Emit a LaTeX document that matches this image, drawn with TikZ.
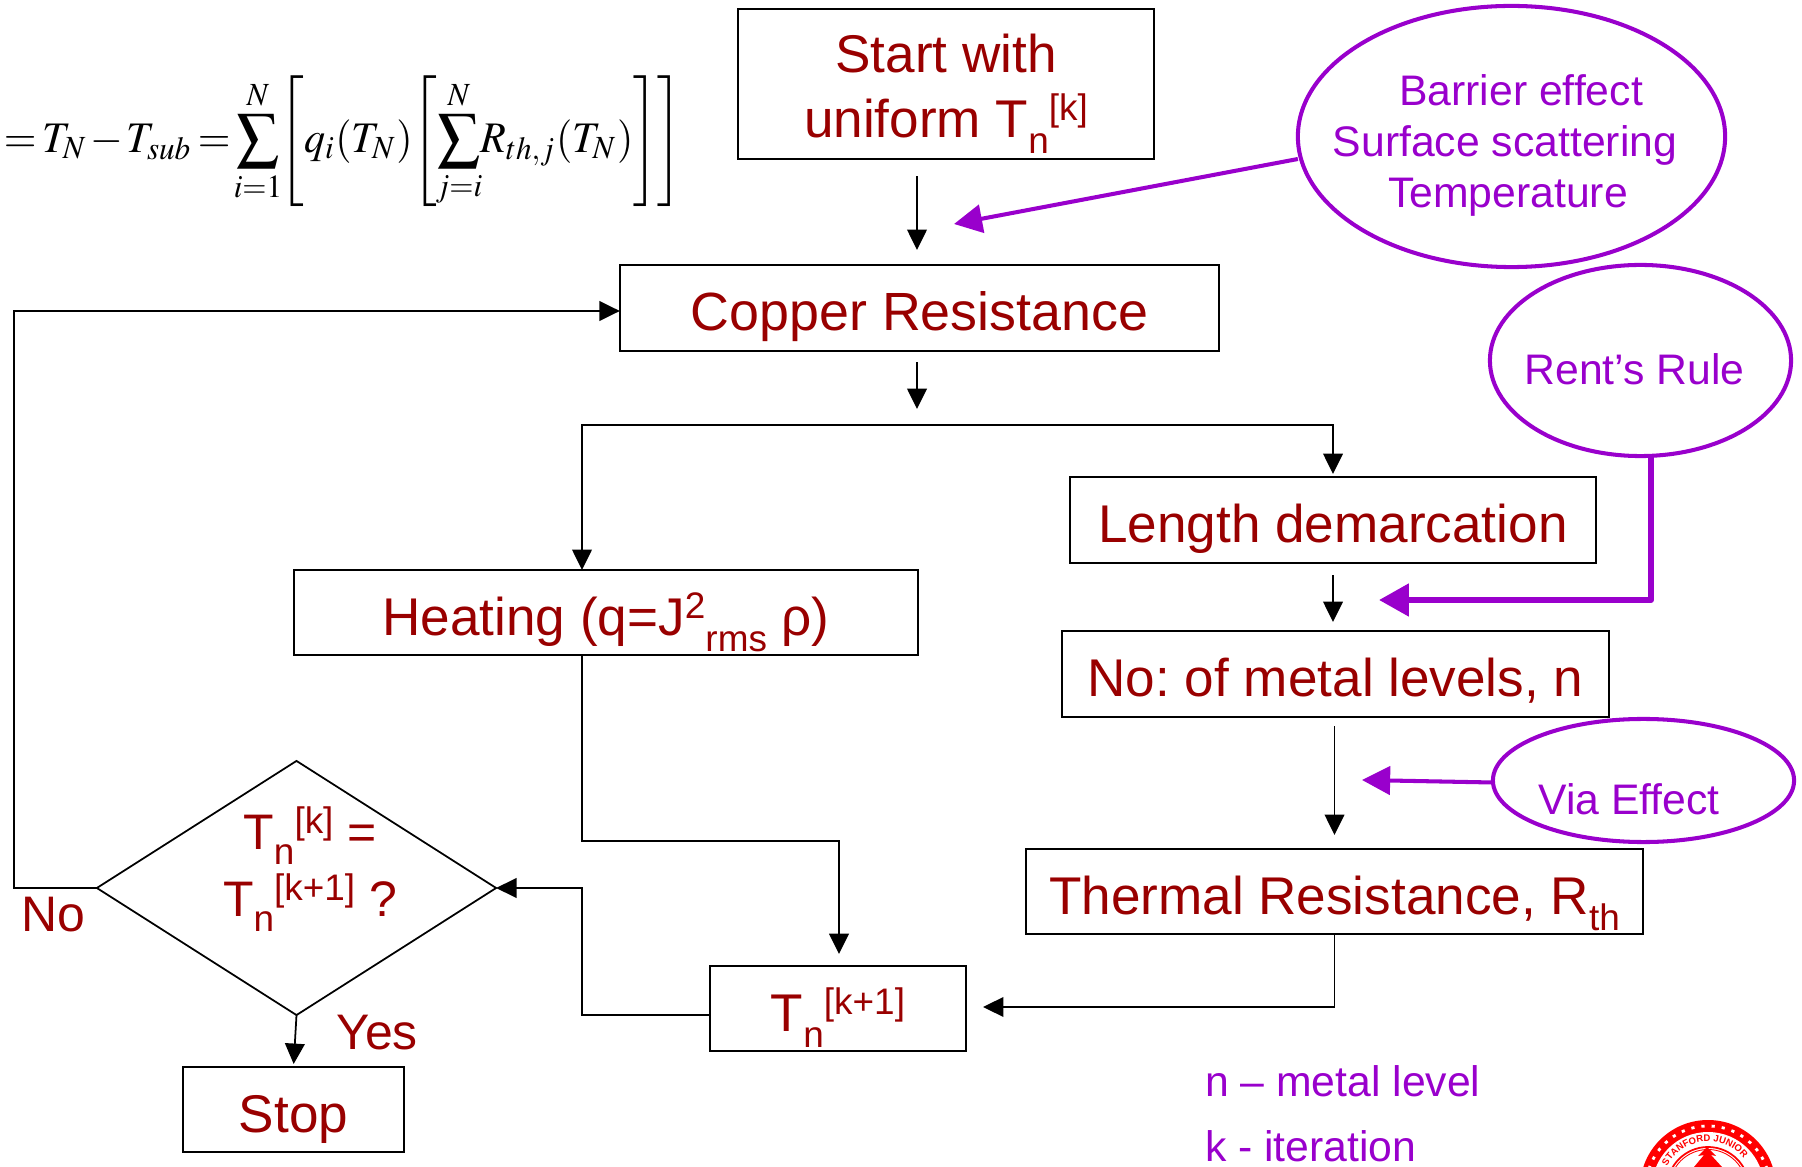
\documentclass[tikz,border=0pt]{standalone}
\usepackage{mathptmx}
\usepackage{mathtools}
\usepackage{graphicx}
\usepackage[no-math]{fontspec}
\setmainfont{Liberation Sans}
\usetikzlibrary{arrows.meta,shapes.geometric,decorations.text}
\definecolor{flowred}{HTML}{990000}
\definecolor{notepurple}{HTML}{9900CC}
\definecolor{sealred}{HTML}{FF0000}
\newcommand{\lowtxt}[1]{\raisebox{-0.3em}{\fontsize{10.5}{12}\selectfont #1}}
\newcommand{\hightxt}[1]{\raisebox{0.32em}{\fontsize{10.5}{12}\selectfont #1}}
\lineskiplimit=-20pt
\frenchspacing
\begin{document}
\begin{tikzpicture}[
  x=0.01cm, y=-0.01cm,
  every node/.style={inner sep=0pt, outer sep=0pt},
  tallbox/.style={draw=black, line width=0.5pt, align=center, font=\fontsize{15.1}{18.3}\selectfont, text=flowred},
  flowbox/.style={draw=black, line width=0.5pt, text height=13pt, text depth=0pt, font=\fontsize{15.1}{16}\selectfont, text=flowred},
  bubble/.style={draw=notepurple, line width=1.15pt, ellipse, inner sep=0pt},
  flowtext/.style={font=\fontsize{14.2}{19}\selectfont, text=flowred, align=center},
  notetext/.style={font=\fontsize{12.15}{15}\selectfont, text height=9pt, text depth=0pt, text=notepurple},
  arr/.style={line width=0.5pt, -{Triangle[length=5.8pt,width=5.6pt]}},
  notearr/.style={draw=notepurple, line width=1.15pt, -{Triangle[length=8pt,width=8pt]}},
  heavyarr/.style={draw=notepurple, line width=1.7pt, line join=round, -{Triangle[length=8.5pt,width=9pt]}}
]
\useasboundingbox (0,0) rectangle (1802,1167);

% --- equation ---
\node[anchor=west] (eq) at (4,142) {\fontsize{12.4}{14}\selectfont
  \thinmuskip=0mu \medmuskip=1.5mu \thickmuskip=2.5mu \nulldelimiterspace=0pt
  \scalebox{0.965}[1]{$\displaystyle =T_N-T_{sub}=\sum_{\mathclap{i=1}}^{N}\left[q_i\left(T_N\right)\left[\sum_{\mathclap{j=i}}^{N}R_{th,j}\left(T_N\right)\right]\right]$}};

% --- flow boxes ---
\node[tallbox, minimum width=4.16cm, minimum height=1.5cm] (start) at (946,84)
  {\rule{0pt}{16.5pt}Start with\\uniform T\lowtxt{n}\hightxt{[k]}};
\node[flowbox, font=\fontsize{15.3}{16}\selectfont, minimum width=5.99cm, minimum height=0.86cm] (copper) at (919.5,308) {Copper Resistance};
\node[flowbox, minimum width=5.26cm, minimum height=0.86cm] (length) at (1333,520) {Length demarcation};
\node[flowbox, minimum width=6.24cm, minimum height=0.85cm] (heating) at (606,612.5)
  {Heating (q=J\hightxt{2}\lowtxt{rms} ρ)};
\node[flowbox, minimum width=5.47cm, minimum height=0.86cm] (levels) at (1335.5,674) {No: of metal levels, n};
\node[flowbox, minimum width=6.17cm, minimum height=0.85cm] (thermal) at (1334.5,891.5)
  {Thermal Resistance, R\lowtxt{th}};
\node[flowbox, minimum width=2.56cm, minimum height=0.85cm] (next) at (838,1008.5)
  {T\lowtxt{n}\hightxt{[k+1]}};
\node[flowbox, minimum width=2.21cm, minimum height=0.85cm] (stop) at (293.5,1109.5) {Stop};

% --- decision ---
\node[draw=black, line width=0.5pt, diamond, aspect=1.57, minimum width=3.99cm, minimum height=2.54cm] (check) at (296.5,888) {};
\node[flowtext] (checktext) at (310,869) {T\lowtxt{n}\hightxt{[k]} =\\T\lowtxt{n}\hightxt{[k+1]} ?};
\node[flowtext] (notext) at (53,915) {No};
\node[flowtext] (yestext) at (377,1033) {Yes};

% --- bubbles ---
\node[bubble, minimum width=4.27cm, minimum height=2.61cm] (barrier) at (1511.5,136.5) {};
\node[notetext] (barrier1) at (1521,90) {Barrier effect};
\node[notetext] (barrier2) at (1505,141) {Surface scattering};
\node[notetext] (barrier3) at (1508,192) {Temperature};
\node[bubble, minimum width=3.01cm, minimum height=1.91cm] (rent) at (1640.5,360.5) {};
\node[notetext] (renttext) at (1634.5,369) {Rent’s Rule};
\node[bubble, minimum width=3.01cm, minimum height=1.23cm] (via) at (1643.5,780.5) {};
\node[notetext] (viatext) at (1629,799) {Via Effect};

% --- legend ---
\node[notetext, anchor=west] (legendn) at (1205,1081) {n – metal level};
\node[notetext, anchor=west] (legendk) at (1205,1145.5) {k - iteration};

% --- junction and free ends ---
\coordinate (split) at (917,425);
\coordinate (barrierend) at (954,224);
\coordinate (rentend) at (1379,600);
\coordinate (viaend) at (1362,780);

% --- connectors ---
\draw[arr, shorten <=0.17cm, shorten >=0.15cm] (start.south -| split) -- (copper.north -| split);
\draw[arr, shorten <=0.11cm, shorten >=0.16cm] (copper.south -| split) -- (split);
\draw[arr] (split) -| (heating.north -| 582,570);
\draw[arr, shorten >=0.03cm] (split) -| (length.north);
\draw[arr, shorten <=0.12cm, shorten >=0.09cm] (length.south) -- (length.south |- levels.north);
\draw[arr, shorten <=0.09cm, shorten >=0.14cm] (levels.south -| thermal.north) -- (thermal.north);
\draw[arr] (heating.south -| 582,655) |- (839,841) -- (839,954);
\draw[arr, shorten >=0.17cm] (thermal.south) |- (next.east |- 0,1007);
\draw[arr] (next.west |- 0,1015) -| (582,888) -- (check.east);
\draw[arr] (check.west) -| (14,311) -- (copper.west |- 0,311);
\draw[arr, shorten >=0.03cm] (check.south) -- (stop.north);

\draw[notearr] (barrier.west |- 0,159) -- (barrierend);
\draw[heavyarr] (rent.south -| 1651,456) |- (rentend);
\draw[notearr] (via.west |- 0,782.5) -- (viaend);

% --- seal, cut by the page edge ---
\begin{scope}
  \clip (1600,1100) rectangle (1802,1167);
  \fill[sealred] (1708,1188) circle (68);
  \fill[white] (1708,1188) circle (56);
  \draw[white, line width=0.8pt, dash pattern=on 0.9pt off 2pt] (1708,1188) circle (62);
  \draw[sealred, line width=0.5pt] (1708,1188) circle (41);
  \draw[sealred, line width=0.25pt] (1708,1188) circle (38.5);
  \path[decorate, decoration={text along path, text color=sealred, text align=fit to path,
    text={|\fontsize{2.7}{3}\bfseries|STANFORD JUNIOR UNI}}]
    (1708,1188) ++(-152:46.5) arc (-152:-34:46.5);
  \fill[sealred] (1707,1147) -- (1716,1156) -- (1711,1155) -- (1722,1167) -- (1694,1167) -- (1704,1155) -- (1698,1156) -- cycle;
\end{scope}
\end{tikzpicture}
\end{document}
